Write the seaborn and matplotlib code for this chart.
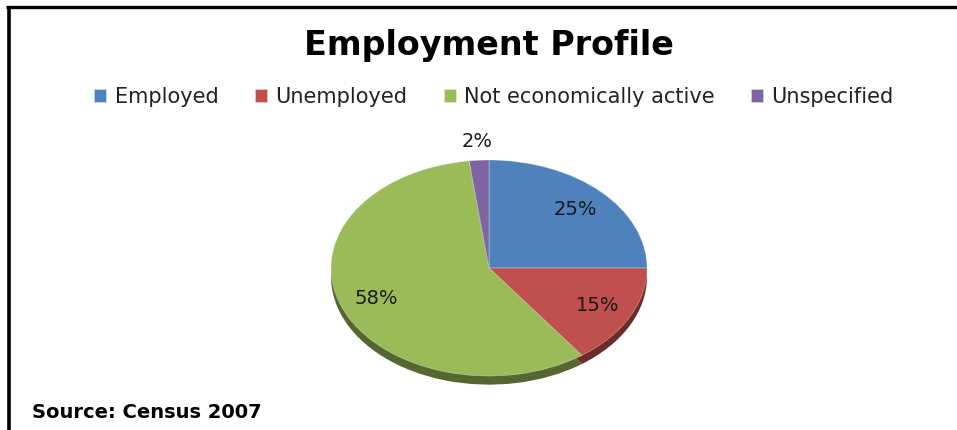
import numpy as np
import matplotlib
matplotlib.use("Agg")
import matplotlib.pyplot as plt
from matplotlib.lines import Line2D
from matplotlib.colors import to_rgb
import seaborn as sns

categories = ["Employed", "Unemployed", "Not economically active", "Unspecified"]
shares = [25, 15, 58, 2]
title = "Employment Profile"
source_note = "Source: Census 2007"

sns.set_theme(style="white")
plt.rcParams["font.family"] = ["DejaVu Sans"]

palette = sns.color_palette(["#4F81BD", "#C0504D", "#9BBB59", "#8064A2"])
side = [tuple(c * 0.55 for c in to_rgb(col)) for col in palette]

W, H = 957, 430
fig = plt.figure(figsize=(W / 100, H / 100), dpi=100)
fig.patch.set_facecolor("white")

# pie geometry in pixels
cx, cy, rx, ry, depth = 489, 268, 158, 108, 0.08
ax = fig.add_axes([(cx - rx) / W, (H - cy - ry * (1 + depth)) / H,
                   2 * rx / W, ry * (2 + depth) / H])

# side wall of the tilted disc
ax.pie(shares, colors=side, startangle=90, counterclock=False,
       center=(0, -depth), radius=1, wedgeprops=dict(linewidth=0))
wedges, _, autotexts = ax.pie(
    shares, colors=palette, startangle=90, counterclock=False,
    radius=1, autopct="%1.0f%%", pctdistance=0.77,
    wedgeprops=dict(linewidth=0.6, edgecolor=(1, 1, 1, 0.35)),
    textprops=dict(fontsize=14, color="#1a1a1a"))

# push the tiny slice label outside the disc
total = sum(shares)
start = 90.0
for val, t in zip(shares, autotexts):
    mid = np.deg2rad(start - 360.0 * val / total / 2)
    start -= 360.0 * val / total
    if val / total < 0.05:
        t.set_position((1.17 * np.cos(mid), 1.17 * np.sin(mid)))

ax.set_aspect("auto")
ax.set_xlim(-1, 1)
ax.set_ylim(-1 - depth, 1)
ax.axis("off")

fig.text(cx / W, 1 - 45 / H, title, ha="center", va="center",
         fontsize=24, fontweight="bold", color="black")

leg = fig.legend(wedges, categories, loc="center", ncol=4,
                 bbox_to_anchor=(494 / W, 1 - 97 / H), frameon=False,
                 fontsize=15, handlelength=0.58, handleheight=0.58,
                 handletextpad=0.4, columnspacing=1.75)
for txt in leg.get_texts():
    txt.set_color("#222222")

fig.text(32 / W, 1 - 413 / H, source_note, ha="left", va="center",
         fontsize=14, fontweight="bold", color="black")

# frame lines along the top and left edges
fig.add_artist(Line2D([6 / W, 1.0], [1 - 6.5 / H, 1 - 6.5 / H],
                      transform=fig.transFigure, color="black", lw=2.4,
                      solid_capstyle="butt"))
fig.add_artist(Line2D([8.5 / W, 8.5 / W], [0, 1 - 5.5 / H],
                      transform=fig.transFigure, color="black", lw=2.6,
                      solid_capstyle="butt"))

fig.savefig("out.png", dpi=100, facecolor="white")
